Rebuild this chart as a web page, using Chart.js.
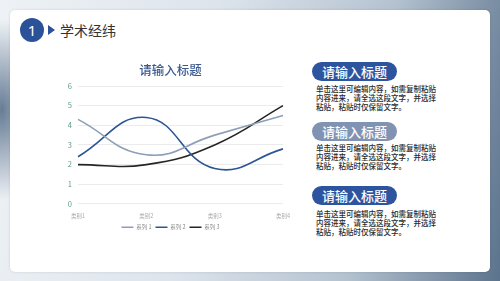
<!DOCTYPE html>
<html>
<head>
<meta charset="utf-8">
<script src="https://cdn.jsdelivr.net/npm/chart.js@4"></script>
<style>
  html, body { margin: 0; padding: 0; }
  body {
    width: 500px; height: 281px; overflow: hidden; position: relative;
    font-family: "Noto Sans CJK SC", "Noto Sans", sans-serif;
    background:
      radial-gradient(ellipse 40px 90px at 2px 110px, rgba(70,95,125,0.8), rgba(70,95,125,0) 100%),
      linear-gradient(100deg, #eef2f6 0%, #dde4ec 40%, #b4c2d0 72%, #5c738d 100%);
  }
  .card {
    position: absolute; left: 10px; top: 10px; width: 480px; height: 262px;
    background: #fff; border-radius: 5px;
    box-shadow: 0 0 3px rgba(0,0,0,0.12);
  }
  .num {
    position: absolute; left: 20px; top: 18px; width: 24px; height: 24px;
    border-radius: 50%; background: #2b5198; color: #fff;
    font-family: "Noto Sans", sans-serif; font-size: 15px; line-height: 24px; text-align: center;
  }
  .tri {
    position: absolute; left: 48px; top: 25px; width: 0; height: 0;
    border-top: 5px solid transparent; border-bottom: 5px solid transparent;
    border-left: 7px solid #2b5198;
  }
  .head {
    position: absolute; left: 60px; top: 20px; font-size: 14px; line-height: 20px; color: #333;
  }
  .pill {
    position: absolute; left: 312px; width: 85px; height: 19px; border-radius: 10px;
    color: #fff; font-size: 13px; line-height: 19px; text-align: center; font-weight: 500;
  }
  .dark { background: #2d559f; }
  .light { background: #8193b3; }
  .body {
    position: absolute; left: 316px; white-space: nowrap; font-size: 7.5px; line-height: 9px;
    color: #2a2a2a; font-weight: 500;
  }
  #wrap { position: absolute; left: 58px; top: 60px; width: 242px; height: 180px; }
</style>
</head>
<body>
<div class="card"></div>
<div class="num">1</div>
<div class="tri"></div>
<div class="head">学术经纬</div>

<div class="pill dark" style="top:62px">请输入标题</div>
<div class="body" style="top:84px">单击这里可编辑内容，如需复制粘贴<br>内容进来，请全选这段文字，并选择<br>粘贴，粘贴时仅保留文字。</div>
<div class="pill light" style="top:122px">请输入标题</div>
<div class="body" style="top:143px">单击这里可编辑内容，如需复制粘贴<br>内容进来，请全选这段文字，并选择<br>粘贴，粘贴时仅保留文字。</div>
<div class="pill dark" style="top:186px">请输入标题</div>
<div class="body" style="top:209px">单击这里可编辑内容，如需复制粘贴<br>内容进来，请全选这段文字，并选择<br>粘贴，粘贴时仅保留文字。</div>

<div id="wrap"><canvas id="chart"></canvas></div>

<script>
// chart data
const categories = ['类别1', '类别2', '类别3', '类别4'];
const series1 = [4.3, 2.5, 3.5, 4.5];
const series2 = [2.4, 4.4, 1.8, 2.8];
const series3 = [2.0, 2.0, 3.0, 5.0];
const yTicks = [0, 1, 2, 3, 4, 5, 6];

const FONT = '"Noto Sans CJK SC", "Noto Sans", sans-serif';

function line(label, data, color) {
    return {
        label,
        data,
        borderColor: color,
        backgroundColor: color,
        borderWidth: 1.6,
        pointRadius: 0,
        tension: 0.45,
        fill: false
    };
}

new Chart(document.getElementById('chart'), {
    type: 'line',
    data: {
        labels: categories,
        datasets: [
            line('系列 1', series1, '#8d9fb8'),
            line('系列 2', series2, '#2c5594'),
            line('系列 3', series3, '#252525')
        ]
    },
    options: {
        responsive: true,
        maintainAspectRatio: false,
        animation: false,
        layout: { padding: { left: 0, right: 17, top: 0, bottom: 0 } },
        plugins: {
            title: {
                display: true,
                text: '请输入标题',
                color: '#3b5a90',
                font: { family: FONT, size: 12.5, weight: '500' },
                padding: { top: 3, bottom: 8 }
            },
            legend: {
                position: 'bottom',
                labels: {
                    color: '#888',
                    font: { family: FONT, size: 5.5 },
                    usePointStyle: true,
                    pointStyle: 'line',
                    pointStyleWidth: 12,
                    boxHeight: 6,
                    padding: 4
                }
            },
            tooltip: { enabled: false }
        },
        scales: {
            x: {
                offset: false,
                grid: { display: false },
                border: { display: false },
                ticks: {
                    color: '#aaa',
                    font: { family: FONT, size: 5.5 },
                    padding: 1,
                    maxRotation: 0
                }
            },
            y: {
                min: 0,
                max: 6,
                afterBuildTicks: (scale) => { scale.ticks = yTicks.map(v => ({ value: v })); },
                afterFit: (scale) => { scale.width = 20; },
                grid: { color: '#ebebeb', lineWidth: 1, drawTicks: false },
                border: { display: false },
                ticks: {
                    color: '#5f9c86',
                    font: { family: FONT, size: 7.5 },
                    padding: 6
                }
            }
        }
    }
});
</script>
</body>
</html>
